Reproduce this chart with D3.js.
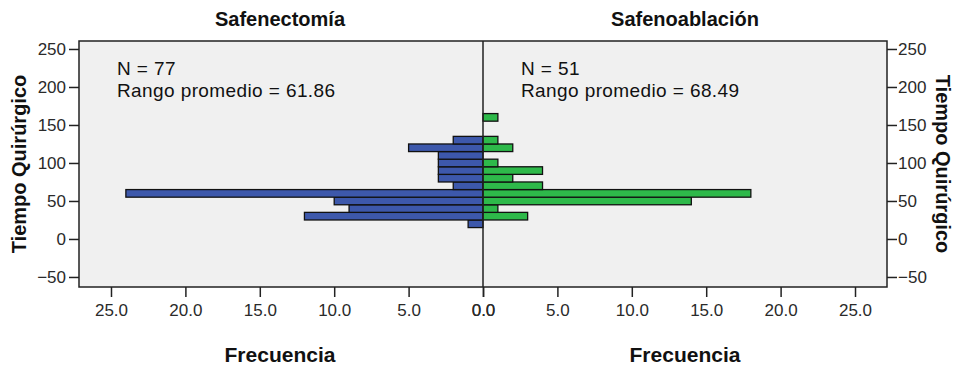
<!DOCTYPE html>
<html>
<head>
<meta charset="utf-8">
<script src="https://cdn.jsdelivr.net/npm/d3@7"></script>
<style>
  body { margin: 0; background: #fff; }
  text { font-family: "Liberation Sans", Arial, sans-serif; }
</style>
</head>
<body>
<div id="chart"></div>
<script>
// bins of Tiempo Quirúrgico (lower edge, width 10)
const binStarts = [15, 25, 35, 45, 55, 65, 75, 85, 95, 105, 115, 125, 135, 145, 155];
const binWidth = 10;
const safenectomia = [1, 12, 9, 10, 24, 2, 3, 3, 3, 3, 5, 2, 0, 0, 0];
const safenoablacion = [0, 3, 1, 14, 18, 4, 2, 4, 1, 0, 2, 1, 0, 0, 1];
const yTicks = [-50, 0, 50, 100, 150, 200, 250];
const xTicks = [0, 5, 10, 15, 20, 25];
const groups = ["Safenectomía", "Safenoablación"];
const nLabels = ["N = 77", "N = 51"];
const rangoLabels = ["Rango promedio = 61.86", "Rango promedio = 68.49"];

const W = 956, H = 368;
const pLeft = 79, pRight = 887, pTop = 41, pBottom = 287, mid = 483;

const svg = d3.select("#chart").append("svg")
    .attr("width", W)
    .attr("height", H);

svg.append("rect")
    .attr("x", pLeft).attr("y", pTop)
    .attr("width", pRight - pLeft).attr("height", pBottom - pTop)
    .style("fill", "#f0f0f0");

const y = d3.scaleLinear().domain([-63.2, 260.5]).range([pBottom, pTop]);
const xL = d3.scaleLinear().domain([0, 27.15]).range([mid, pLeft]);
const xR = d3.scaleLinear().domain([0, 27.15]).range([mid, pRight]);

const rows = binStarts.map((b, i) => ({ lo: b, hi: b + binWidth, a: safenectomia[i], b: safenoablacion[i] }));

// bars
svg.append("g").selectAll("rect")
    .data(rows.filter(d => d.a > 0))
    .join("rect")
    .attr("x", d => xL(d.a))
    .attr("y", d => y(d.hi))
    .attr("width", d => xL(0) - xL(d.a))
    .attr("height", d => y(d.lo) - y(d.hi))
    .style("fill", "#3d58ab")
    .style("stroke", "#111")
    .style("stroke-width", 1.3);

svg.append("g").selectAll("rect")
    .data(rows.filter(d => d.b > 0))
    .join("rect")
    .attr("x", xR(0))
    .attr("y", d => y(d.hi))
    .attr("width", d => xR(d.b) - xR(0))
    .attr("height", d => y(d.lo) - y(d.hi))
    .style("fill", "#2eb94a")
    .style("stroke", "#111")
    .style("stroke-width", 1.3);

// frame
svg.append("rect")
    .attr("x", pLeft).attr("y", pTop)
    .attr("width", pRight - pLeft).attr("height", pBottom - pTop)
    .style("fill", "none")
    .style("stroke", "#222")
    .style("stroke-width", 1.5);

svg.append("line")
    .attr("x1", mid).attr("x2", mid)
    .attr("y1", pTop).attr("y2", pBottom)
    .style("stroke", "#222")
    .style("stroke-width", 1.5);

// axes
function styleAxis(g) {
    g.select(".domain").remove();
    g.selectAll(".tick line").style("stroke", "#222").style("stroke-width", 1.5);
    g.selectAll(".tick text")
        .style("font-family", "'Liberation Sans', Arial, sans-serif")
        .style("font-size", "17px")
        .style("fill", "#2a2a2a");
}

svg.append("g")
    .attr("transform", "translate(" + pLeft + ",0)")
    .call(d3.axisLeft(y).tickValues(yTicks).tickSize(10).tickPadding(3))
    .call(styleAxis);

svg.append("g")
    .attr("transform", "translate(" + pRight + ",0)")
    .call(d3.axisRight(y).tickValues(yTicks).tickSize(10).tickPadding(1))
    .call(styleAxis);

svg.append("g")
    .attr("transform", "translate(0," + pBottom + ")")
    .call(d3.axisBottom(xL).tickValues(xTicks).tickFormat(d3.format(".1f")).tickSize(10).tickPadding(7))
    .call(styleAxis);

svg.append("g")
    .attr("transform", "translate(0," + pBottom + ")")
    .call(d3.axisBottom(xR).tickValues(xTicks).tickFormat(d3.format(".1f")).tickSize(10).tickPadding(7))
    .call(styleAxis);

// titles
const centers = [(pLeft + mid) / 2 - 1, (mid + pRight) / 2];
groups.forEach((g, i) => {
    svg.append("text")
        .attr("x", centers[i]).attr("y", 26)
        .attr("text-anchor", "middle")
        .style("font-size", "20px")
        .style("font-weight", "bold")
        .style("fill", "#111")
        .text(g);

    svg.append("text")
        .attr("x", centers[i]).attr("y", 362)
        .attr("text-anchor", "middle")
        .style("font-size", "21px")
        .style("font-weight", "bold")
        .style("fill", "#111")
        .text("Frecuencia");

    // annotation lines
    const tx = i === 0 ? 117 : 521;
    svg.append("text")
        .attr("x", tx).attr("y", 75)
        .style("font-size", "19px")
        .style("letter-spacing", "0.4px")
        .style("fill", "#111")
        .text(nLabels[i]);
    svg.append("text")
        .attr("x", tx).attr("y", 97)
        .style("font-size", "19px")
        .style("letter-spacing", "0.4px")
        .style("fill", "#111")
        .text(rangoLabels[i]);
});

const midY = (pTop + pBottom) / 2;
svg.append("text")
    .attr("transform", "translate(26," + midY + ") rotate(-90)")
    .attr("text-anchor", "middle")
    .style("font-size", "20px")
    .style("font-weight", "bold")
    .style("fill", "#111")
    .text("Tiempo Quirúrgico");

svg.append("text")
    .attr("transform", "translate(936," + midY + ") rotate(90)")
    .attr("text-anchor", "middle")
    .style("font-size", "20px")
    .style("font-weight", "bold")
    .style("fill", "#111")
    .text("Tiempo Quirúrgico");
</script>
</body>
</html>
